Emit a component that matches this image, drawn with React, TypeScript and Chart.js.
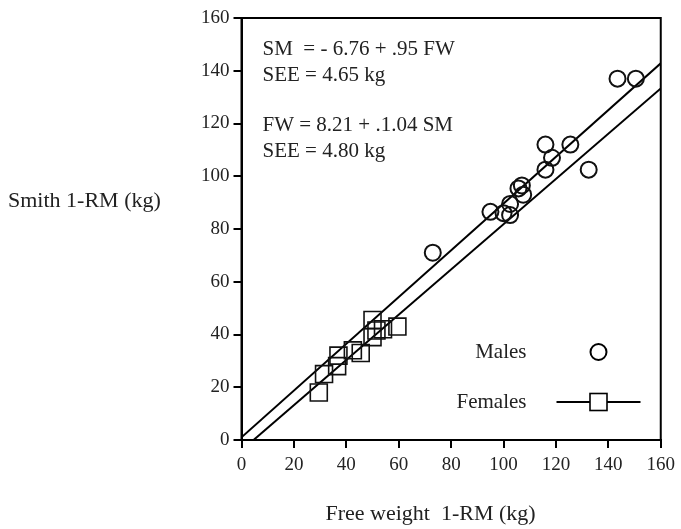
import React, { useEffect, useRef } from "react";
import { Chart, registerables } from "chart.js";

Chart.register(...registerables);

// Males (circles): free weight 1-RM vs Smith 1-RM
const maleFW = [73, 95, 100, 102.5, 102.5, 105.7, 107.5, 107, 116, 118.5, 116, 125.5, 132.5, 143.5, 150.5];
const maleSM = [71, 86.5, 86, 85.3, 89.5, 95.4, 93, 96.5, 102.5, 107, 112, 112, 102.5, 137, 137];

// Females (squares)
const femaleFW = [29.5, 31.5, 36.5, 37, 42.5, 45.5, 50, 50, 51.5, 54, 59.5];
const femaleSM = [18, 25, 28, 32, 34, 33, 45.5, 39, 41.5, 42, 43];

// Regression lines (endpoints)
const lineAFW = [0, 160];
const lineASM = [1, 142.8];
const lineBFW = [4.6, 160];
const lineBSM = [0, 133.3];

const axisMin = 0;
const axisMax = 160;
const tickStep = 20;

const equationLines = ["SM  = - 6.76 + .95 FW", "SEE = 4.65 kg", "", "FW = 8.21 + .1.04 SM", "SEE = 4.80 kg"];
const legendLabels = ["Males", "Females"];
const xTitle = "Free weight  1-RM (kg)";
const yTitle = "Smith 1-RM (kg)";

const FONT = "'Liberation Serif', 'Times New Roman', serif";
const TEXT = "#222";

const zip = (xs: number[], ys: number[]) => xs.map((x, i) => ({ x, y: ys[i] }));

const decorPlugin = {
  id: "decor",
  afterDraw(chart: any) {
    const { ctx, chartArea } = chart;
    const { left, top, right, bottom } = chartArea;
    ctx.save();
    // box
    ctx.strokeStyle = "#000";
    ctx.lineWidth = 2;
    ctx.strokeRect(left, top, right - left, bottom - top);

    // equations
    ctx.fillStyle = TEXT;
    ctx.font = `21px ${FONT}`;
    ctx.textAlign = "left";
    ctx.textBaseline = "middle";
    const eqY = [top + 31, top + 57, 0, top + 107, top + 133];
    equationLines.forEach((t, i) => {
      if (t) ctx.fillText(t, left + 21, eqY[i]);
    });

    // legend
    const legTextRight = left + 285;
    const markerX = left + 357;
    const malesY = top + 334;
    const femalesY = top + 384;
    ctx.textAlign = "right";
    ctx.fillText(legendLabels[0], legTextRight, malesY);
    ctx.fillText(legendLabels[1], legTextRight, femalesY);
    ctx.lineWidth = 2;
    ctx.beginPath();
    ctx.arc(markerX, malesY, 8, 0, Math.PI * 2);
    ctx.stroke();
    ctx.beginPath();
    ctx.moveTo(markerX - 42, femalesY);
    ctx.lineTo(markerX - 8.5, femalesY);
    ctx.moveTo(markerX + 8.5, femalesY);
    ctx.lineTo(markerX + 42, femalesY);
    ctx.stroke();
    ctx.lineWidth = 1.6;
    ctx.strokeRect(markerX - 8.5, femalesY - 8.5, 17, 17);

    // axis titles
    ctx.font = `22px ${FONT}`;
    ctx.textAlign = "left";
    ctx.fillText(yTitle, 8, top + 183);
    ctx.textAlign = "center";
    ctx.fillText(xTitle, left + 189, bottom + 74);
    ctx.restore();
  },
};

export default function App() {
  const ref = useRef<HTMLCanvasElement>(null);
  useEffect(() => {
    document.body.style.margin = "0";
    const canvas = ref.current!;
    const tickFont = { family: FONT, size: 19 };
    const chart = new Chart(canvas, {
      type: "scatter",
      data: {
        datasets: [
          {
            label: "Males",
            data: zip(maleFW, maleSM),
            pointStyle: "circle",
            pointRadius: 8,
            pointBorderWidth: 2,
            pointBorderColor: "#111",
            pointBackgroundColor: "rgba(0,0,0,0)",
          },
          {
            label: "Females",
            data: zip(femaleFW, femaleSM),
            pointStyle: "rect",
            pointRadius: 12,
            pointBorderWidth: 1.6,
            pointBorderColor: "#111",
            pointBackgroundColor: "rgba(0,0,0,0)",
          },
          {
            label: "SM fit",
            data: zip(lineAFW, lineASM),
            showLine: true,
            pointRadius: 0,
            borderColor: "#000",
            borderWidth: 2,
          },
          {
            label: "FW fit",
            data: zip(lineBFW, lineBSM),
            showLine: true,
            pointRadius: 0,
            borderColor: "#000",
            borderWidth: 2,
          },
        ],
      },
      options: {
        animation: false,
        responsive: true,
        maintainAspectRatio: false,
        layout: { padding: { top: 18, right: 17.5, left: 0, bottom: 0 } },
        plugins: { legend: { display: false }, tooltip: { enabled: false } },
        scales: {
          x: {
            type: "linear",
            min: axisMin,
            max: axisMax,
            ticks: { stepSize: tickStep, font: tickFont, color: TEXT, padding: 6, maxRotation: 0 },
            grid: { drawOnChartArea: false, tickLength: 8, color: "#000", lineWidth: 2 },
            border: { display: true, color: "#000", width: 2 },
            afterFit: (s: any) => {
              s.height = 89;
            },
          },
          y: {
            type: "linear",
            min: axisMin,
            max: axisMax,
            ticks: { stepSize: tickStep, font: tickFont, color: TEXT, padding: 4 },
            grid: { drawOnChartArea: false, tickLength: 8, color: "#000", lineWidth: 2 },
            border: { display: true, color: "#000", width: 2 },
            afterFit: (s: any) => {
              s.width = 241.5;
            },
          },
        },
      },
      plugins: [decorPlugin],
    } as any);
    return () => chart.destroy();
  }, []);
  return (
    <div style={{ width: 681, height: 529, position: "relative" }}>
      <canvas ref={ref} />
    </div>
  );
}
